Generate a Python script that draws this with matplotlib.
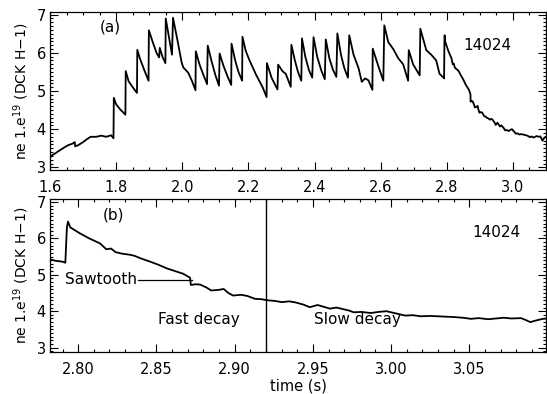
import matplotlib
matplotlib.use("Agg")
import matplotlib.pyplot as plt
from matplotlib.ticker import MultipleLocator, FormatStrFormatter

# ---- data: density trace (time s, ne 1e19) ----
t_early = [1.600, 1.603, 1.615, 1.625, 1.643, 1.655, 1.668, 1.675, 1.676, 1.685,
           1.700, 1.712, 1.723, 1.740, 1.755, 1.770, 1.785, 1.792,
           1.793, 1.800, 1.812, 1.828,
           1.829, 1.838, 1.850, 1.863,
           1.864, 1.872, 1.885, 1.898,
           1.899, 1.910, 1.922, 1.930, 1.932, 1.940, 1.949,
           1.950, 1.960, 1.969,
           1.972, 1.985, 1.998, 2.003, 2.018, 2.030, 2.040,
           2.041, 2.052, 2.064, 2.075,
           2.077, 2.088, 2.100, 2.111,
           2.113, 2.125, 2.137, 2.148,
           2.149, 2.160, 2.170, 2.181,
           2.182, 2.192, 2.203, 2.223, 2.243, 2.255,
           2.256, 2.270, 2.288,
           2.290, 2.303, 2.313, 2.328,
           2.330, 2.340, 2.350, 2.360,
           2.362, 2.372, 2.383, 2.393,
           2.397, 2.408, 2.420, 2.431,
           2.434, 2.445, 2.456, 2.466,
           2.469, 2.480, 2.490, 2.501,
           2.505, 2.518, 2.533, 2.543, 2.553, 2.563, 2.575,
           2.576, 2.593, 2.608,
           2.611, 2.623, 2.638, 2.653, 2.668, 2.683,
           2.685, 2.698, 2.718,
           2.720, 2.738, 2.753, 2.768, 2.775]
v_early = [3.25, 3.30, 3.36, 3.42, 3.52, 3.58, 3.62, 3.66, 3.55, 3.58,
           3.66, 3.74, 3.80, 3.80, 3.83, 3.80, 3.84, 3.76,
           4.82, 4.65, 4.52, 4.38,
           5.52, 5.25, 5.10, 4.95,
           6.08, 5.85, 5.55, 5.27,
           6.59, 6.30, 6.00, 5.88, 6.13, 5.90, 5.73,
           6.90, 6.40, 5.95,
           6.92, 6.35, 5.75, 5.62, 5.48, 5.25, 5.02,
           6.04, 5.70, 5.42, 5.18,
           6.19, 5.80, 5.42, 5.14,
           5.98, 5.65, 5.38, 5.16,
           6.24, 5.80, 5.50, 5.27,
           6.42, 6.05, 5.81, 5.43, 5.10, 4.84,
           5.73, 5.35, 5.04,
           5.69, 5.52, 5.45, 5.11,
           6.21, 5.82, 5.50, 5.27,
           6.38, 5.90, 5.55, 5.35,
           6.41, 5.90, 5.55, 5.31,
           6.35, 5.85, 5.55, 5.37,
           6.51, 5.95, 5.60, 5.35,
           6.46, 5.95, 5.60, 5.24, 5.33, 5.28, 5.03,
           6.11, 5.65, 5.27,
           6.72, 6.28, 6.10, 5.86, 5.70, 5.27,
           6.07, 5.70, 5.41,
           6.63, 6.07, 5.95, 5.80, 5.55]

t_late = [2.778, 2.782, 2.786, 2.790, 2.7918, 2.7928, 2.7935, 2.795, 2.798, 2.801,
          2.807, 2.814, 2.818, 2.821, 2.824, 2.828, 2.833, 2.836, 2.840, 2.846,
          2.851, 2.857, 2.862, 2.867, 2.8715, 2.872, 2.875, 2.878, 2.882, 2.885,
          2.889, 2.893, 2.896, 2.899, 2.904, 2.908, 2.913, 2.917, 2.921, 2.926,
          2.930, 2.935, 2.939, 2.944, 2.948, 2.953, 2.957, 2.961, 2.965, 2.969,
          2.973, 2.976, 2.981, 2.987, 2.992, 2.997, 3.003, 3.009, 3.014, 3.019,
          3.025, 3.030, 3.035, 3.040, 3.046, 3.051, 3.056, 3.062, 3.067, 3.072,
          3.077, 3.083, 3.086, 3.089, 3.093, 3.097, 3.100]
v_late = [5.45, 5.42, 5.38, 5.36, 5.33, 6.30, 6.46, 6.30, 6.22, 6.14,
          6.00, 5.86, 5.70, 5.72, 5.62, 5.58, 5.55, 5.52, 5.45, 5.36,
          5.28, 5.17, 5.10, 5.03, 4.92, 4.72, 4.74, 4.73, 4.65, 4.57,
          4.58, 4.61, 4.50, 4.43, 4.45, 4.42, 4.34, 4.33, 4.30, 4.28,
          4.25, 4.27, 4.24, 4.18, 4.11, 4.17, 4.12, 4.07, 4.10, 4.06,
          4.02, 3.97, 3.98, 3.95, 3.98, 4.00, 3.94, 3.88, 3.89, 3.86,
          3.87, 3.86, 3.85, 3.84, 3.82, 3.79, 3.81, 3.78, 3.80, 3.82,
          3.80, 3.81, 3.76, 3.70, 3.75, 3.79, 3.80]

shot = "14024"
t_split = 2.92
ylabel = "ne 1.e$^{19}$ (DCK H\u22121)"

t_all = t_early + t_late
v_all = v_early + v_late

plt.rcParams['font.family'] = ['DejaVu Sans']
plt.rcParams['mathtext.fontset'] = 'dejavusans'

fig = plt.figure(figsize=(5.47, 3.94), dpi=100)
W, H = 547, 394
def ax_rect(x0, y0, x1, y1):
    return [x0 / W, 1 - y1 / H, (x1 - x0) / W, (y1 - y0) / H]

ax1 = fig.add_axes(ax_rect(50, 12, 546, 170))
ax2 = fig.add_axes(ax_rect(50, 199, 546, 352))

lw = 1.3
ax1.plot(t_all, v_all, color='black', lw=lw)
ax1.set_xlim(1.6, 3.1)
ax1.set_ylim(2.93, 7.07)
ax1.xaxis.set_major_locator(MultipleLocator(0.2))
ax1.xaxis.set_minor_locator(MultipleLocator(0.05))
ax1.xaxis.set_major_formatter(FormatStrFormatter('%.1f'))

ax2.plot(t_late, v_late, color='black', lw=lw)
ax2.axvline(t_split, color='black', lw=1.0)
ax2.set_xlim(2.782, 3.099)
ax2.set_ylim(2.88, 7.08)
ax2.xaxis.set_major_locator(MultipleLocator(0.05))
ax2.xaxis.set_minor_locator(MultipleLocator(0.01))
ax2.xaxis.set_major_formatter(FormatStrFormatter('%.2f'))

for ax in (ax1, ax2):
    ax.yaxis.set_major_locator(MultipleLocator(1))
    ax.yaxis.set_minor_locator(MultipleLocator(0.1))
    ax.yaxis.set_major_formatter(FormatStrFormatter('%d'))
    ax.tick_params(which='both', direction='in', top=True, right=True,
                   labelsize=10.5, width=0.8, colors='black')
    ax.tick_params(which='major', length=5.5)
    ax.tick_params(which='minor', length=2.5)
    ax.tick_params(axis='x', pad=7)
    ax.tick_params(axis='y', pad=3)
    for s in ax.spines.values():
        s.set_linewidth(0.9)
    ax.set_ylabel(ylabel, fontsize=10, labelpad=4)

ax1.text(0.10, 0.905, "(a)", transform=ax1.transAxes, fontsize=11, va='center', ha='left')
ax1.text(0.833, 0.785, shot, transform=ax1.transAxes, fontsize=11, va='center', ha='left')

ax2.text(2.816, 6.64, "(b)", fontsize=11, va='center', ha='left')
ax2.text(3.052, 6.17, shot, fontsize=11, va='center', ha='left')
ax2.text(2.7917, 4.87, "Sawtooth", fontsize=11, va='center', ha='left')
ax2.plot([2.8385, 2.8725], [4.87, 4.87], color='black', lw=0.9)
ax2.text(2.851, 3.76, "Fast decay", fontsize=11, va='center', ha='left')
ax2.text(2.951, 3.76, "Slow decay", fontsize=11, va='center', ha='left')
ax2.set_xlabel("time (s)", fontsize=10.5, labelpad=1)

fig.savefig("out.png", dpi=100)
